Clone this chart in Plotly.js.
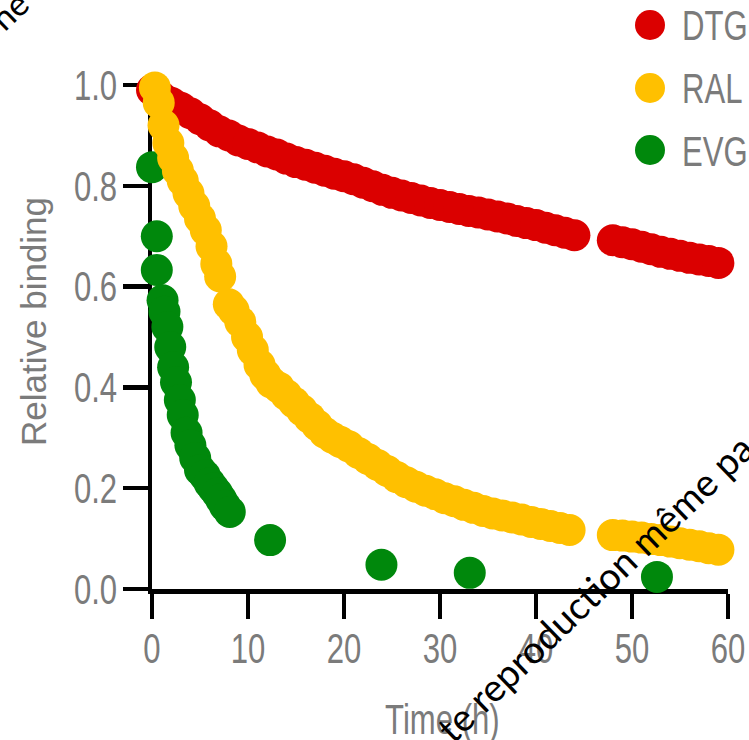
<!DOCTYPE html>
<html>
<head>
<meta charset="utf-8">
<script src="https://cdn.plot.ly/plotly-3.0.1.min.js"></script>
<style>
  html, body { margin: 0; padding: 0; background: #ffffff; }
  #chart { width: 749px; height: 740px; }
</style>
</head>
<body>
<div id="chart"></div>
<script>
// ---- data ----
const seriesNames = ['DTG', 'RAL', 'EVG'];
const seriesColors = ['#db0000', '#ffc000', '#00880c'];

const dtgTime = [0, 1, 2, 3, 4, 5, 6, 7, 8, 9, 10, 11, 12, 13, 14, 15, 16, 17, 18, 19, 20,
  21, 22, 23, 24, 25, 26, 27, 28, 29, 30, 31, 32, 33, 34, 35, 36, 37, 38, 39, 40, 41, 42, 43, 44,
  48, 49, 50, 51, 52, 53, 54, 55, 56, 57, 58, 59];
const dtgBinding = [0.99, 0.975, 0.965, 0.955, 0.944, 0.932, 0.92, 0.908, 0.90, 0.89, 0.883,
  0.876, 0.868, 0.862, 0.854, 0.847, 0.842, 0.836, 0.830, 0.824, 0.819,
  0.813, 0.806, 0.799, 0.792, 0.786, 0.781, 0.776, 0.771, 0.766, 0.762,
  0.758, 0.754, 0.750, 0.747, 0.743, 0.739, 0.735, 0.730, 0.726, 0.722,
  0.717, 0.712, 0.707, 0.702,
  0.692, 0.688, 0.684, 0.679, 0.674, 0.669, 0.665, 0.661, 0.657, 0.654, 0.651, 0.647];

const ralTime = [0.3, 0.7, 1.2, 1.7, 2.2, 2.7, 3.2, 3.8, 4.4, 5.0, 5.6, 6.2, 6.7, 7.1,
  8.0, 8.5, 9.2, 9.9, 10.5, 11.2, 11.8, 12.4, 13.2, 14.0, 14.8, 15.6, 16.4, 17.2, 18.0, 18.8,
  19.6, 20.5, 21.5, 22.5, 23.5, 24.5, 25.5, 26.5, 27.5, 28.5, 29.5, 30.5, 31.5, 32.5, 33.5,
  34.5, 35.5, 36.5, 37.5, 38.5, 39.5, 40.5, 41.5, 42.5, 43.5,
  48, 49, 50, 51, 52, 53, 54, 55, 56, 57, 58, 59];
const ralBinding = [0.995, 0.965, 0.92, 0.885, 0.855, 0.83, 0.81, 0.785, 0.76, 0.735, 0.712,
  0.68, 0.645, 0.62,
  0.565, 0.553, 0.53, 0.50, 0.474, 0.445, 0.425, 0.41, 0.40, 0.385, 0.37, 0.355, 0.34, 0.325,
  0.31, 0.30, 0.292, 0.283, 0.27, 0.258, 0.246, 0.234, 0.222, 0.212, 0.203, 0.195, 0.188,
  0.18, 0.174, 0.167, 0.161, 0.155, 0.15, 0.146, 0.142, 0.138, 0.133, 0.129, 0.125, 0.121, 0.117,
  0.107, 0.106, 0.104, 0.102, 0.099, 0.097, 0.094, 0.091, 0.088, 0.085, 0.081, 0.078];

const evgTime = [0, 0.5, 0.5, 1.1, 1.3, 1.6, 1.9, 2.2, 2.5, 2.9, 3.2, 3.6, 4.0, 4.5, 5.0, 5.5,
  6.0, 6.4, 6.8, 7.2, 7.6, 8.1, 12.3, 23.9, 33.1, 52.6];
const evgBinding = [0.837, 0.70, 0.633, 0.573, 0.55, 0.52, 0.48, 0.44, 0.41, 0.375, 0.345,
  0.31, 0.285, 0.26, 0.236, 0.225, 0.21, 0.20, 0.19, 0.178, 0.165, 0.153, 0.097, 0.048, 0.032, 0.024];

const xTickVals = [0, 10, 20, 30, 40, 50, 60];
const yTickVals = [0, 0.2, 0.4, 0.6, 0.8, 1.0];
const yTickText = ['0.0', '0.2', '0.4', '0.6', '0.8', '1.0'];
const xTitle = 'Time (h)';
const yTitle = 'Relative binding';
const watermarkMain = 'te reproduction même pa';
const watermarkCorner = 'ne';

// ---- styling ----
const sans = '"Liberation Sans", Arial, Helvetica, sans-serif';
const grey = '#7b7b7b';
const markerSize = 32;
const squash = 0.74;   // horizontal compression of the narrow labels

const W = 749, H = 740;
const M = { l: 152, r: 21, t: 85, b: 151 };
const plotW = W - M.l - M.r, plotH = H - M.t - M.b;
const px = x => (x - M.l) / plotW;           // pixel -> paper x
const py = y => (H - M.b - y) / plotH;        // pixel -> paper y

function mk(i, xs, ys) {
  return {
    type: 'scatter', mode: 'markers', name: seriesNames[i],
    x: xs, y: ys, cliponaxis: false, showlegend: false,
    marker: { size: markerSize, color: seriesColors[i], line: { width: 0 } },
    hoverinfo: 'skip'
  };
}

const traces = [
  mk(0, dtgTime, dtgBinding),
  mk(2, evgTime, evgBinding),
  mk(1, ralTime, ralBinding)
];

const axisCommon = {
  showline: true, linecolor: '#000', linewidth: 4.5,
  ticks: 'outside', ticklen: 25, tickwidth: 4.5, tickcolor: '#000',
  showgrid: false, zeroline: false, layer: 'below traces',
  tickfont: { family: sans, size: 42, color: grey },
  ticklabeloverflow: 'allow',
  fixedrange: true
};

const legendY = [25, 88, 150];
const shapes = [];
const annotations = [];
for (let i = 0; i < 3; i++) {
  shapes.push({
    type: 'circle', xref: 'paper', yref: 'paper',
    xsizemode: 'pixel', ysizemode: 'pixel',
    xanchor: px(650), yanchor: py(legendY[i]),
    x0: -15, x1: 15, y0: -15, y1: 15,
    fillcolor: seriesColors[i], line: { width: 0 }
  });
  annotations.push({
    xref: 'paper', yref: 'paper', x: px(680), y: py(legendY[i] + 1),
    xanchor: 'left', yanchor: 'middle', showarrow: false,
    text: seriesNames[i], font: { family: sans, size: 42, color: grey }
  });
}
annotations.push({
  xref: 'paper', yref: 'paper', x: px(33), y: py(322),
  xanchor: 'center', yanchor: 'middle', showarrow: false, textangle: -90,
  text: yTitle, font: { family: sans, size: 35, color: grey }
});
annotations.push({
  xref: 'paper', yref: 'paper', x: px(442), y: py(719),
  xanchor: 'center', yanchor: 'middle', showarrow: false,
  text: xTitle, font: { family: sans, size: 42, color: grey }
});
annotations.push({
  xref: 'paper', yref: 'paper', x: px(594), y: py(588),
  xanchor: 'center', yanchor: 'middle', showarrow: false, textangle: -44,
  text: watermarkMain, font: { family: 'Lato, "Open Sans", sans-serif', size: 38, color: '#000' }
});
annotations.push({
  xref: 'paper', yref: 'paper', x: px(8), y: py(10),
  xanchor: 'center', yanchor: 'middle', showarrow: false, textangle: -44,
  text: watermarkCorner, font: { family: 'Lato, "Open Sans", sans-serif', size: 34, color: '#000' }
});

const layout = {
  width: W, height: H,
  margin: M,
  paper_bgcolor: '#fff', plot_bgcolor: '#fff',
  showlegend: false,
  xaxis: Object.assign({}, axisCommon, { range: [0, 60], tickvals: xTickVals, ticklabelstandoff: -6 }),
  yaxis: Object.assign({}, axisCommon, { range: [0, 1], tickvals: yTickVals, ticktext: yTickText, ticklabelstandoff: -3 }),
  shapes: shapes,
  annotations: annotations
};

Plotly.newPlot('chart', traces, layout, { staticPlot: true, displayModeBar: false }).then(gd => {
  // the reference uses a condensed grotesque: compress the glyphs of the upright labels
  function squashText(t, keepLeft) {
    const len = t.getComputedTextLength();
    if (keepLeft) {
      const x = parseFloat(t.getAttribute('x') || '0');
      const anchor = t.getAttribute('text-anchor') || 'start';
      const left = anchor === 'middle' ? x - len / 2 : (anchor === 'end' ? x - len : x);
      t.setAttribute('text-anchor', 'start');
      t.setAttribute('x', left.toFixed(2));
    }
    t.setAttribute('textLength', (len * squash).toFixed(2));
    t.setAttribute('lengthAdjust', 'spacingAndGlyphs');
  }
  gd.querySelectorAll('.xtick text, .ytick text').forEach(t => squashText(t, false));
  gd.querySelectorAll('g.annotation').forEach(g => {
    const idx = +g.getAttribute('data-index');
    const t = g.querySelector('text.annotation-text');
    if (!t) return;
    if (idx <= 2) squashText(t, true);
    else if (idx === 4) squashText(t, false);
  });
});
</script>
</body>
</html>
